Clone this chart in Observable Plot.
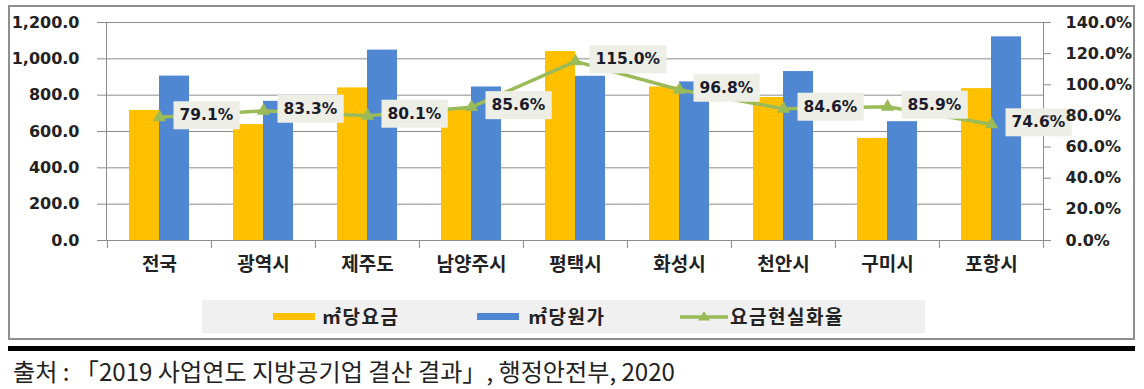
<!DOCTYPE html>
<html>
<head>
<meta charset="utf-8">
<script src="https://cdn.jsdelivr.net/npm/d3@7"></script>
<script src="https://cdn.jsdelivr.net/npm/@observablehq/plot@0.6"></script>
<style>
  html, body { margin: 0; padding: 0; background: #fff; }
  body { position: relative; width: 1144px; height: 389px; overflow: hidden; font-family: "Noto Sans CJK KR", sans-serif; }
  #chartwrap { position: absolute; left: 0; top: 0; }
  #frame { position: absolute; left: 8px; top: 5px; width: 1123px; height: 331px; border: 2px solid #8f8f8f; pointer-events: none; }
  #legend { position: absolute; left: 202px; top: 300px; width: 723px; height: 33px; background: #f0f0f0; }
  .sw { position: absolute; top: 13px; width: 42px; height: 7px; }
  .lt { position: absolute; top: 3px; font-size: 19px; letter-spacing: 1.5px; font-weight: bold; color: #222; line-height: 26px; white-space: nowrap; }
  #rule { position: absolute; left: 8px; top: 346px; width: 1127px; height: 5px; background: #000; }
  #source { position: absolute; left: 13px; top: 355px; font-size: 24px; color: #222; white-space: nowrap; line-height: 32px; transform-origin: 0 0; }
</style>
</head>
<body>
<div id="chartwrap"></div>
<div id="legend"></div>
<div id="frame"></div>
<div id="rule"></div>
<div id="source"></div>
<script>
// ---- data ----
const categories = ["전국", "광역시", "제주도", "남양주시", "평택시", "화성시", "천안시", "구미시", "포항시"];
const feePerM3 = [716, 638, 840, 722, 1040, 845, 787, 562, 836];       // ㎡당요금
const costPerM3 = [905, 766, 1048, 845, 904, 873, 930, 654, 1121];     // ㎡당원가
const recoveryRate = [79.1, 83.3, 80.1, 85.6, 115.0, 96.8, 84.6, 85.9, 74.6]; // 요금현실화율 (%)
const leftTicks = [0, 200, 400, 600, 800, 1000, 1200];
const rightTicks = [0, 20, 40, 60, 80, 100, 120, 140];
const seriesNames = ["㎡당요금", "㎡당원가", "요금현실화율"];
const sourceText = "출처 : 「2019 사업연도 지방공기업 결산 결과」, 행정안전부, 2020";

// ---- style ----
const colFee = "#ffc000", colCost = "#4f87d3", colRate = "#9bbb59", colGrid = "#8c8c8c";
const W = 1144, H = 300, mL = 106, mR = 101, mT = 22, mB = 60;
const leftMax = 1200, rightMax = 140, k = leftMax / rightMax;
const step = (W - mL - mR) / categories.length;

const rows = categories.map((c, i) => ({cat: c, fee: feePerM3[i], cost: costPerM3[i], rate: recoveryRate[i]}));
const labelOf = d => d.rate.toFixed(1) + "%";

const chart = Plot.plot({
  width: W, height: H,
  marginLeft: mL, marginRight: mR, marginTop: mT, marginBottom: mB,
  style: {fontFamily: "'DejaVu Sans', sans-serif", fontSize: "16px", color: "#222", background: "transparent"},
  x: {type: "band", domain: categories, paddingInner: 0.424, paddingOuter: 0.212},
  y: {domain: [0, leftMax]},
  marks: [
    Plot.gridY(leftTicks, {stroke: colGrid, strokeOpacity: 1}),
    Plot.barY(rows, {x: "cat", y: "fee", fill: colFee, insetRight: 30}),
    Plot.barY(rows, {x: "cat", y: "cost", fill: colCost, insetLeft: 30}),
    Plot.frame({stroke: colGrid}),
    Plot.axisY({anchor: "left", ticks: leftTicks, tickSize: 9, tickPadding: 18, label: null,
      tickFormat: d => d3.format(",.1f")(d), stroke: colGrid, fill: "#222", fontWeight: "bold", fontSize: 16}),
    Plot.axisX({ticks: categories, tickSize: 8, tickFormat: () => "", label: null, dx: -step / 2, stroke: colGrid}),
    Plot.axisX({ticks: categories.slice(-1), tickSize: 8, tickFormat: () => "", label: null, dx: step / 2, stroke: colGrid}),
    Plot.axisX({ticks: categories, tickSize: 0, tickPadding: 17, label: null, fill: "#222",
      fontFamily: "'Noto Sans CJK KR', sans-serif", fontWeight: "bold", fontSize: 19, letterSpacing: "1.5px"}),
    Plot.line(rows, {x: "cat", y: d => d.rate * k, stroke: colRate, strokeWidth: 3.5}),
    Plot.dot(rows, {x: "cat", y: d => d.rate * k, symbol: "triangle", fill: colRate, r: 5}),
    Plot.text(rows, {x: "cat", y: d => d.rate * k, text: labelOf, textAnchor: "start",
      dx: 20, dy: -2, fontWeight: "bold", fontSize: 15.5, fill: "#1b1b2b"}),
    Plot.axisY({anchor: "right", ticks: rightTicks.map(t => t * k), tickSize: 7, tickPadding: 15, label: null,
      tickFormat: v => (v / k).toFixed(1) + "%", stroke: colGrid, fill: "#222", fontWeight: "bold", fontSize: 16})
  ]
});
document.getElementById("chartwrap").append(chart);

// label boxes behind the data labels
const labelSet = new Set(rows.map(labelOf));
d3.select(chart).selectAll("text").each(function () {
  if (!labelSet.has(this.textContent)) return;
  if (this.closest('g[aria-label*="axis"]')) return;
  const b = this.getBBox();
  const r = document.createElementNS("http://www.w3.org/2000/svg", "rect");
  r.setAttribute("x", b.x - 6); r.setAttribute("y", b.y - 5);
  r.setAttribute("width", b.width + 12); r.setAttribute("height", b.height + 10);
  r.setAttribute("fill", "#edefe6");
  const t = this.getAttribute("transform"); if (t) r.setAttribute("transform", t);
  this.parentNode.insertBefore(r, this);
});

// legend
const lg = document.getElementById("legend");
lg.innerHTML =
  `<div class="sw" style="left:71px;background:${colFee}"></div><div class="lt" style="left:120px">${seriesNames[0]}</div>` +
  `<div class="sw" style="left:275px;background:${colCost}"></div><div class="lt" style="left:326px">${seriesNames[1]}</div>` +
  `<svg style="position:absolute;left:478px;top:8px" width="48" height="18"><line x1="0" y1="9" x2="48" y2="9" stroke="${colRate}" stroke-width="3.5"/><path d="M24,3 L30,12.5 L18,12.5 Z" fill="${colRate}"/></svg>` +
  `<div class="lt" style="left:528px">${seriesNames[2]}</div>`;

// source caption
const src = document.getElementById("source");
src.textContent = sourceText;
const w = src.getBoundingClientRect().width;
src.style.transform = `scaleX(${662 / w})`;
</script>
</body>
</html>
